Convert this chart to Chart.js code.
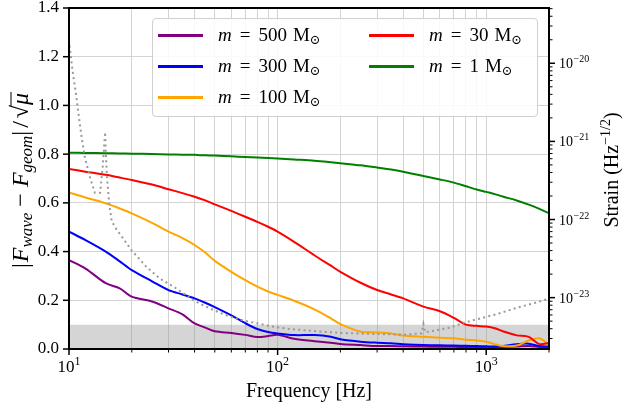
<!DOCTYPE html>
<html>
<head>
<meta charset="utf-8">
<script src="https://cdn.jsdelivr.net/npm/chart.js@4.4.0/dist/chart.umd.min.js"></script>
<style>
  body { margin: 0; background: #fff; }
  #wrap { position: relative; width: 625px; height: 409px; }
  #legend {
    position: absolute; left: 152px; top: 18px; width: 384px; height: 97px;
    border: 1px solid #d0d0d0; border-radius: 4px; background: rgba(255,255,255,0.85);
    font-family: 'Liberation Serif', 'DejaVu Serif', serif; font-size: 19px; color: #000;
  }
  .item { position: absolute; height: 24px; width: 170px; white-space: nowrap; }
  .swatch { position: absolute; left: 0; top: 11px; width: 45px; height: 3px; }
  .lbl { position: absolute; left: 60px; top: 0; line-height: 24px; }
  .lbl .eq { margin: 0 8px; }
  .lbl .unit { margin-left: 6px; }
  .lbl sub { font-size: 13px; vertical-align: -3px; }
</style>
</head>
<body>
<div id="wrap">
  <canvas id="c" width="625" height="409"></canvas>
  <div id="legend"></div>
</div>
<script>
// frequencies (Hz) where the curves were read
var freq = [10, 12, 15, 17.5, 20, 25, 30, 35, 40, 45, 50, 60, 70, 80, 90, 100, 120, 150, 180, 200,
            250, 300, 350, 400, 500, 600, 700, 800, 900, 1000, 1100, 1200, 1400, 1600, 1800, 2000];

// |F_wave - F_geom| / sqrt(mu) for each lens mass
var m500 = [.365, .330, .270, .249, .215, .195, .167, .142, .105, .088, .073, .066, .058, .049, .053, .058, .042, .032, .026, .021,
            .016, .012, .012, .011, .010, .009, .009, .008, .008, .007, .007, .008, .010, .012, .008, .006];
var m300 = [.482, .447, .400, .360, .324, .278, .242, .224, .208, .190, .172, .138, .106, .082, .070, .064, .057, .057, .050, .040,
            .030, .026, .024, .020, .016, .015, .014, .013, .012, .011, .010, .012, .020, .022, .012, .010];
var m100 = [.643, .622, .598, .577, .557, .518, .482, .455, .427, .396, .362, .317, .283, .256, .236, .222, .198, .163, .126, .102,
            .071, .068, .064, .055, .050, .046, .044, .038, .035, .030, .020, .012, .014, .035, .044, .018];
var m30  = [.739, .728, .715, .704, .694, .675, .656, .640, .625, .610, .594, .567, .543, .522, .502, .482, .440, .385, .342, .317,
            .272, .242, .224, .208, .174, .155, .128, .100, .095, .092, .085, .073, .056, .050, .020, .025];
var m1   = [.806, .805, .804, .803, .802, .801, .799, .798, .797, .795, .794, .791, .788, .786, .784, .782, .778, .773, .767, .763,
            .754, .745, .737, .728, .710, .696, .683, .668, .655, .645, .636, .626, .610, .593, .575, .557];

// detector sensitivity curve (right axis)
var sensFreq = [10.0, 10.3, 10.5, 10.8, 11.1, 11.5, 11.9, 12.6, 13.3, 14.1, 14.5, 14.9, 15.0, 15.2, 15.6, 16.0, 16.6, 20, 23.6, 27.4,
                33, 39.6, 47.6, 57.3, 68.9, 82.8, 92.5, 115, 155, 201, 301, 405, 490, 500, 510, 679, 787, 982, 1138, 1420, 1644, 2000];
var sensStrain = [1.97e-20, 9.9e-21, 6.7e-21, 4.1e-21, 2.27e-21, 1.13e-21, 6.3e-22, 3.5e-22, 2.2e-22, 2.2e-22, 4.7e-22, 1.31e-21,
                  7.7e-22, 3.5e-22, 1.59e-22, 9.7e-23, 8.0e-23, 4.0e-23, 2.45e-23, 1.74e-23, 1.29e-23, 9.2e-24, 7.2e-24, 5.9e-24,
                  5.07e-24, 4.6e-24, 4.3e-24, 3.97e-24, 3.7e-24, 3.53e-24, 3.42e-24, 3.36e-24, 3.5e-24, 4.6e-24, 3.6e-24, 4.16e-24,
                  4.8e-24, 5.6e-24, 6.2e-24, 7.5e-24, 8.3e-24, 9.7e-24];

var bandLevel = 0.1;

var masses = ['500', '300', '100', '30', '1'];
var colors = ['#800080', '#0000ff', '#ffa500', '#ff0000', '#008000'];
var seriesVals = [m500, m300, m100, m30, m1];

// ticks
var xGrid = [10, 20, 30, 40, 50, 60, 70, 80, 90, 100, 200, 300, 400, 500, 600, 700, 800, 900, 1000, 2000];
var xMajor = [10, 100, 1000];
var xMajorExp = ['1', '2', '3'];
var yTicks = [0, 0.2, 0.4, 0.6, 0.8, 1.0, 1.2, 1.4];
var strainMajor = [1e-23, 1e-22, 1e-21, 1e-20];
var strainExp = ['\u221223', '\u221222', '\u221221', '\u221220'];
var strainMin = 2.2e-24, strainMax = 5.1e-20;

var FONT = "'Liberation Serif', 'DejaVu Serif', serif";

function pts(xs, ys) {
    return xs.map(function (f, i) { return {x: f, y: ys[i]}; });
}

function strainGrid() {
    var out = [];
    for (var e = -24; e <= -20; e++) {
        for (var k = 1; k <= 9; k++) {
            var v = k * Math.pow(10, e);
            if (v >= strainMin && v <= strainMax) out.push(v);
        }
    }
    return out;
}

// text with mixed fonts (sub/superscripts), optionally rotated
function drawRuns(ctx, runs, cx, cy, rot, align) {
    ctx.save();
    ctx.translate(cx, cy);
    ctx.rotate(rot);
    var w = 0;
    runs.forEach(function (r) { ctx.font = r.font; r.w = ctx.measureText(r.t).width; w += r.w + (r.gap || 0); });
    var x = align === 'left' ? 0 : -w / 2;
    ctx.textBaseline = 'alphabetic';
    ctx.textAlign = 'left';
    ctx.fillStyle = '#000';
    runs.forEach(function (r) {
        ctx.font = r.font;
        ctx.fillText(r.t, x, r.dy || 0);
        if (r.over) {
            ctx.strokeStyle = '#000';
            ctx.lineWidth = 1;
            ctx.beginPath();
            ctx.moveTo(x - 1, r.over);
            ctx.lineTo(x + r.w + 1, r.over);
            ctx.stroke();
        }
        x += r.w + (r.gap || 0);
    });
    ctx.restore();
}

var decor = {
    id: 'decor',
    afterDraw: function (chart) {
        var ctx = chart.ctx, a = chart.chartArea;
        var sx = chart.scales.x, sy = chart.scales.y, s2 = chart.scales.y2;
        ctx.save();
        ctx.strokeStyle = '#000';

        // tick marks
        xGrid.forEach(function (v) {
            var px = sx.getPixelForValue(v), major = xMajor.indexOf(v) >= 0;
            ctx.lineWidth = major ? 1.5 : 1;
            ctx.beginPath();
            ctx.moveTo(px, a.bottom);
            ctx.lineTo(px, a.bottom + (major ? 6 : 3.5));
            ctx.stroke();
        });
        yTicks.forEach(function (v) {
            var py = sy.getPixelForValue(v);
            ctx.lineWidth = 1.5;
            ctx.beginPath();
            ctx.moveTo(a.left - 6, py);
            ctx.lineTo(a.left, py);
            ctx.stroke();
        });
        strainGrid().forEach(function (v) {
            var py = s2.getPixelForValue(v), major = strainMajor.some(function (m) { return Math.abs(m - v) / m < 1e-6; });
            ctx.lineWidth = major ? 1.5 : 1;
            ctx.beginPath();
            ctx.moveTo(a.right, py);
            ctx.lineTo(a.right + (major ? 6 : 3.5), py);
            ctx.stroke();
        });

        // frame
        ctx.lineWidth = 2;
        ctx.strokeRect(a.left, a.top, a.right - a.left, a.bottom - a.top);
        ctx.restore();

        // x tick labels 10^n
        xMajor.forEach(function (v, i) {
            drawRuns(ctx, [
                {t: '10', font: '17px ' + FONT},
                {t: xMajorExp[i], font: '12px ' + FONT, dy: -7}
            ], sx.getPixelForValue(v), a.bottom + 23, 0);
        });
        // right tick labels
        strainMajor.forEach(function (v, i) {
            drawRuns(ctx, [
                {t: '10', font: '14px ' + FONT, gap: 0.5},
                {t: strainExp[i], font: '10px ' + FONT, dy: -6}
            ], a.right + 10, s2.getPixelForValue(v) + 5, 0, 'left');
        });

        // axis titles
        drawRuns(ctx, [{t: 'Frequency [Hz]', font: '20px ' + FONT}], (a.left + a.right) / 2, a.bottom + 48, 0);
        drawRuns(ctx, [
            {t: '|', font: '24px ' + FONT, dy: 8, gap: 1},
            {t: 'F', font: 'italic 24px ' + FONT, dy: 8},
            {t: 'wave', font: 'italic 17px ' + FONT, dy: 12},
            {t: ' \u2212 ', font: '24px ' + FONT, dy: 8},
            {t: 'F', font: 'italic 24px ' + FONT, dy: 8},
            {t: 'geom', font: 'italic 17px ' + FONT, dy: 12},
            {t: '|', font: '24px ' + FONT, dy: 8, gap: 3},
            {t: '/', font: '24px ' + FONT, dy: 8, gap: 3},
            {t: '\u221a', font: '24px ' + FONT, dy: 8},
            {t: '\u03bc', font: 'italic 24px ' + FONT, dy: 8, over: -9}
        ], 20, (a.top + a.bottom) / 2 + 2, -Math.PI / 2);
        drawRuns(ctx, [
            {t: 'Strain (Hz', font: '20px ' + FONT, dy: 7},
            {t: '\u22121/2', font: '14px ' + FONT, dy: -1},
            {t: ')', font: '20px ' + FONT, dy: 7}
        ], 611, 170, -Math.PI / 2);
    }
};

var datasets = [];
seriesVals.forEach(function (vals, i) {
    datasets.push({
        data: pts(freq, vals),
        borderColor: colors[i],
        borderWidth: 2,
        pointRadius: 0,
        tension: 0.3,
        yAxisID: 'y',
        order: 6 - i
    });
});
datasets.push({
    data: pts(sensFreq, sensStrain),
    borderColor: '#999999',
    borderWidth: 2,
    borderDash: [2, 3.3],
    pointRadius: 0,
    yAxisID: 'y2',
    order: 0
});
datasets.push({
    data: [{x: 10, y: bandLevel}, {x: 2000, y: bandLevel}],
    borderWidth: 0,
    borderColor: 'rgba(0,0,0,0)',
    backgroundColor: 'rgba(150,150,150,0.4)',
    fill: 'origin',
    pointRadius: 0,
    yAxisID: 'y',
    order: 10
});

new Chart(document.getElementById('c').getContext('2d'), {
    type: 'line',
    data: {datasets: datasets},
    options: {
        responsive: false,
        animation: false,
        devicePixelRatio: 1,
        layout: {padding: {top: 8, left: 0, right: 0, bottom: 0}},
        plugins: {legend: {display: false}, tooltip: {enabled: false}},
        scales: {
            x: {
                type: 'logarithmic', min: 10, max: 2000, position: 'bottom',
                afterBuildTicks: function (s) { s.ticks = xGrid.map(function (v) { return {value: v}; }); },
                grid: {color: '#d3d3d3', lineWidth: 1, drawTicks: false},
                border: {display: false},
                ticks: {display: false},
                afterFit: function (s) { s.height = 60; s.paddingLeft = 0; s.paddingRight = 0; }
            },
            y: {
                min: 0, max: 1.4, position: 'left',
                afterBuildTicks: function (s) { s.ticks = yTicks.map(function (v) { return {value: v}; }); },
                grid: {color: '#d3d3d3', lineWidth: 1, drawTicks: false},
                border: {display: false},
                ticks: {
                    color: '#000', padding: 10, font: {family: FONT, size: 17},
                    callback: function (v) { return Number(v).toFixed(1); }
                },
                afterFit: function (s) { s.width = 69; s.paddingTop = 0; s.paddingBottom = 0; }
            },
            y2: {
                type: 'logarithmic', position: 'right', min: strainMin, max: strainMax,
                afterBuildTicks: function (s) { s.ticks = strainGrid().map(function (v) { return {value: v}; }); },
                grid: {display: false},
                border: {display: false},
                ticks: {display: false},
                afterFit: function (s) { s.width = 76; s.paddingTop = 0; s.paddingBottom = 0; }
            }
        }
    },
    plugins: [decor]
});

// legend, two columns like the original
var legend = document.getElementById('legend');
masses.forEach(function (m, i) {
    var col = i < 3 ? 0 : 1, row = i < 3 ? i : i - 3;
    var item = document.createElement('div');
    item.className = 'item';
    item.style.left = (col ? 216 : 5) + 'px';
    item.style.top = (4 + row * 31) + 'px';
    item.innerHTML = '<div class="swatch" style="background:' + colors[i] + '"></div>' +
        '<span class="lbl"><i>m</i><span class="eq">=</span>' + m +
        '<span class="unit">M</span><sub>\u2299</sub></span>';
    legend.appendChild(item);
});
</script>
</body>
</html>
